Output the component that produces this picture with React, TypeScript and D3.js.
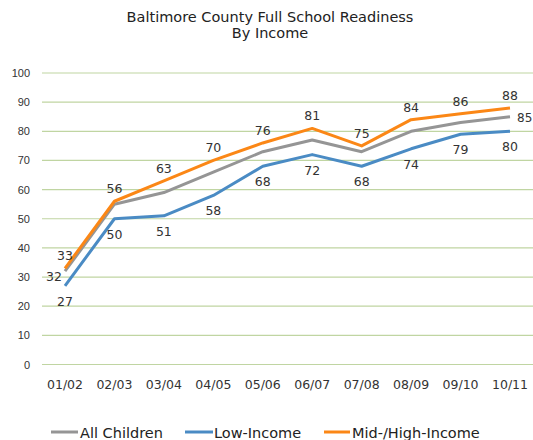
import React from "react";
import * as d3 from "d3";

const categories = ["01/02", "02/03", "03/04", "04/05", "05/06", "06/07", "07/08", "08/09", "09/10", "10/11"];
const allChildren = [32, 55, 59, 66, 73, 77, 73, 80, 83, 85];
const lowIncome = [27, 50, 51, 58, 68, 72, 68, 74, 79, 80];
const midHighIncome = [33, 56, 63, 70, 76, 81, 75, 84, 86, 88];
const yTicks = [0, 10, 20, 30, 40, 50, 60, 70, 80, 90, 100];
const titleLines = ["Baltimore County Full School Readiness", "By Income"];
const seriesNames = ["All Children", "Low-Income", "Mid-/High-Income"];

const W = 533;
const H = 440;
const GRAY = "#959595";
const BLUE = "#4a8bc4";
const ORANGE = "#fb8716";
const GRID = "#c0d5a2";
const TXT = "#333333";
const VERD = "Verdana, 'DejaVu Sans', sans-serif";
const ARIAL = "Arial, 'Liberation Sans', sans-serif";

export default function App() {
  const x = d3.scalePoint<string>().domain(categories).range([65, 510]);
  const y = d3.scaleLinear().domain([0, 100]).range([364.5, 73]);
  const line = d3
    .line<number>()
    .x((_, i) => x(categories[i]) as number)
    .y((d) => y(d));

  const series = [
    { name: seriesNames[0], data: allChildren, color: GRAY },
    { name: seriesNames[1], data: lowIncome, color: BLUE },
    { name: seriesNames[2], data: midHighIncome, color: ORANGE },
  ];

  const legendItems = [
    { x1: 51, x2: 78, tx: 80, color: GRAY, name: seriesNames[0] },
    { x1: 185, x2: 213, tx: 214, color: BLUE, name: seriesNames[1] },
    { x1: 324, x2: 350, tx: 352, color: ORANGE, name: seriesNames[2] },
  ];

  return (
    <svg
      width={W}
      height={H}
      style={{ position: "absolute", left: 0, top: 0, background: "#fff" }}
    >
      {titleLines.map((t, i) => (
        <text
          key={t}
          x={270}
          y={22 + i * 16}
          textAnchor="middle"
          fontFamily={VERD}
          fontSize={14.5}
          fill="#222"
        >
          {t}
        </text>
      ))}
      {yTicks.map((t) => (
        <g key={t}>
          <line x1={42} x2={533} y1={y(t)} y2={y(t)} stroke={GRID} strokeWidth={1.2} />
          <text
            x={30}
            y={y(t) + 4}
            textAnchor="end"
            fontFamily={ARIAL}
            fontSize={11}
            fill={TXT}
          >
            {t}
          </text>
        </g>
      ))}
      {categories.map((c) => (
        <text
          key={c}
          x={x(c) as number}
          y={389}
          textAnchor="middle"
          fontFamily={VERD}
          fontSize={12.5}
          fill={TXT}
        >
          {c}
        </text>
      ))}
      {series.map((s) => (
        <path
          key={s.name}
          d={line(s.data) || ""}
          fill="none"
          stroke={s.color}
          strokeWidth={3}
          strokeLinejoin="round"
        />
      ))}
      {midHighIncome.map((v, i) => (
        <text
          key={"o" + i}
          x={x(categories[i]) as number}
          y={y(v) - 8}
          textAnchor="middle"
          fontFamily={VERD}
          fontSize={12.5}
          fill={TXT}
        >
          {v}
        </text>
      ))}
      {lowIncome.map((v, i) => (
        <text
          key={"b" + i}
          x={x(categories[i]) as number}
          y={y(v) + 20}
          textAnchor="middle"
          fontFamily={VERD}
          fontSize={12.5}
          fill={TXT}
        >
          {v}
        </text>
      ))}
      <text
        x={(x(categories[0]) as number) - 3}
        y={y(allChildren[0]) + 10}
        textAnchor="end"
        fontFamily={VERD}
        fontSize={12.5}
        fill={TXT}
      >
        {allChildren[0]}
      </text>
      <text
        x={(x(categories[categories.length - 1]) as number) + 7}
        y={y(allChildren[allChildren.length - 1]) + 5}
        textAnchor="start"
        fontFamily={VERD}
        fontSize={12}
        fill={TXT}
      >
        {allChildren[allChildren.length - 1]}
      </text>
      {legendItems.map((l) => (
        <g key={l.name}>
          <line x1={l.x1} x2={l.x2} y1={432} y2={432} stroke={l.color} strokeWidth={3} />
          <text x={l.tx} y={437.5} fontFamily={VERD} fontSize={14.5} fill="#222">
            {l.name}
          </text>
        </g>
      ))}
    </svg>
  );
}
